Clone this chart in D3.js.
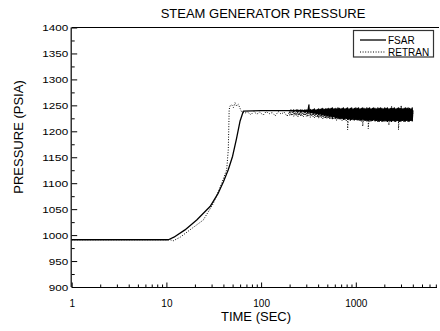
<!DOCTYPE html>
<html>
<head>
<meta charset="utf-8">
<script src="https://cdn.jsdelivr.net/npm/d3@7"></script>
<style>
  html, body { margin: 0; padding: 0; background: #fff; }
  svg { display: block; font-family: "Liberation Sans", Arial, sans-serif; }
</style>
</head>
<body>
<svg id="chart" width="440" height="331"></svg>
<script>
// ---------------- DATA ----------------
const title = "STEAM GENERATOR PRESSURE";
const xLabel = "TIME (SEC)";
const yLabel = "PRESSURE (PSIA)";
const seriesNames = ["FSAR", "RETRAN"];

const xMajorTicks = [1, 10, 100, 1000];
const xMinorTicks = [2,3,4,5,6,7,8,9, 20,30,40,50,60,70,80,90, 200,300,400,500,600,700,800,900, 2000,3000,4000,5000,6000,7000];
const yMajorTicks = [900, 950, 1000, 1050, 1100, 1150, 1200, 1250, 1300, 1350, 1400];
const yMinorTicks = [925, 975, 1025, 1075, 1125, 1175, 1225, 1275, 1325, 1375];

// FSAR transient (before the oscillating long-term part)
const fsarEarlyTime = [1, 10, 10.5, 12, 15.7, 20.9, 28.9, 35.3, 40, 45, 50, 55, 60, 65, 100, 150];
const fsarEarlyP    = [991, 991, 991, 996, 1010, 1029, 1055, 1081, 1103, 1126, 1152, 1186, 1220, 1239, 1240, 1240];

// RETRAN transient
const retranEarlyTime = [1, 11, 11.8, 14, 17.7, 24.5, 31.3, 38.4, 43.3, 45, 45.5, 46, 47, 49, 51, 53, 55, 57.5, 60, 62, 67, 72, 78, 84, 90, 97, 105, 113, 122, 131, 141, 152, 163, 175, 188];
const retranEarlyP    = [991, 991, 989, 996, 1010, 1029, 1061, 1100, 1126, 1164, 1200, 1242, 1249, 1251, 1246, 1255, 1249, 1252, 1244, 1238, 1235, 1237, 1232, 1238, 1233, 1237, 1231, 1238, 1234, 1236, 1230, 1238, 1233, 1237, 1229];

// long-term oscillating part: sample times (s) with the high / low swing at each
const bandTime = [200, 207, 214, 221, 229, 237, 245, 253, 262, 271, 280, 290, 300, 310, 320, 331, 343, 354, 366, 379, 392, 405, 419, 433, 448, 463, 479, 495, 512, 530, 548, 566, 586, 606, 626, 648, 670, 693, 716, 741, 766, 792, 819, 847, 876, 905, 936, 968, 1001, 1035, 1070, 1107, 1144, 1183, 1224, 1265, 1308, 1353, 1399, 1446, 1496, 1546, 1599, 1653, 1710, 1768, 1828, 1890, 1954, 2021, 2089, 2160, 2234, 2310, 2388, 2469, 2553, 2640, 2730, 2822, 2918, 3017, 3120, 3226, 3336, 3449, 3566, 3688, 3813, 3943, 4000];

const fsarBandHigh = [1240,1241,1240,1241,1240,1241,1241,1240,1241,1241,1240,1241,1241,
  1241,1251,1242,1241,1242,1243,1241,1242,1243,1242,1243,1244,1242,1243,
  1243,1244,1243,1244,1245,1243,1244,1243,1245,1244,1243,1244,1245,1243,1244,1245,1243,1244,1245,1243,1244,1245,
  1244,1245,1243,1244,1245,1244,1243,1245,1244,1245,1243,1244,1245,1244,1243,1245,1244,1245,1244,1243,1245,1244,1245,1243,1244,1245,1244,1245,1243,1244,1245,1244,1245,1243,1244,1245,1244,1245,1244,1243,1245,1240];
const fsarBandLow = [1239,1240,1239,1238,1240,1239,1238,1239,1237,1239,1238,1236,1238,
  1236,1237,1235,1236,1234,1235,1233,1234,1232,1233,1231,1232,1230,1231,
  1229,1230,1228,1229,1227,1228,1226,1227,1225,1226,1224,1225,1223,1224,1225,1223,1224,1222,1223,1224,1222,1223,
  1222,1223,1221,1222,1223,1221,1222,1220,1221,1222,1220,1221,1222,1220,1221,1219,1220,1221,1219,1220,1221,1220,1219,1221,1220,1219,1221,1220,1219,1221,1220,1219,1220,1221,1219,1220,1221,1219,1220,1221,1220,1236];

const retranBandHigh = [1238,1239,1237,1240,1238,1239,1240,1238,1239,1241,1239,1240,1238,
  1240,1247,1239,1241,1240,1242,1239,1241,1242,1240,1241,1242,1240,1241,
  1242,1240,1241,1243,1241,1242,1240,1243,1241,1242,1243,1241,1242,1240,1243,1242,1241,1243,1242,1240,1243,1242,
  1241,1243,1242,1240,1243,1241,1242,1243,1241,1242,1243,1240,1242,1243,1241,1242,1243,1241,1242,1240,1243,1242,1241,1243,1242,1248,1241,1243,1242,1240,1243,1242,1250,1241,1243,1242,1241,1243,1242,1241,1243,1236];
const retranBandLow = [1231,1230,1232,1229,1231,1230,1228,1231,1229,1230,1228,1230,1229,
  1228,1230,1227,1229,1228,1226,1228,1227,1225,1227,1226,1224,1226,1225,
  1224,1225,1223,1224,1222,1224,1223,1221,1223,1222,1224,1221,1223,1222,1220,1203,1222,1221,1223,1220,1222,1221,
  1221,1220,1222,1219,1210,1221,1220,1222,1205,1219,1221,1220,1222,1219,1221,1220,1218,1221,1220,1222,1219,1220,1221,1212,1219,1221,1220,1218,1221,1220,1203,1219,1221,1220,1222,1219,1221,1220,1218,1221,1220,1236];

// ---------------- LAYOUT ----------------
const svg = d3.select("#chart");
const pL = 71.7, pR = 437, pT = 27.5, pB = 287;

const x = d3.scaleLog().domain([1, 7200]).range([pL, pR]);
const y = d3.scaleLinear().domain([900, 1400]).range([pB, pT]);

// top frame line
svg.append("line")
  .attr("x1", pL).attr("x2", 439).attr("y1", pT).attr("y2", pT)
  .attr("stroke", "#000").attr("stroke-width", 1.2);

// x axis: major ticks with labels (inward), minor ticks inward
const gx = svg.append("g").attr("transform", `translate(0,${pB})`);
gx.call(d3.axisBottom(x).tickValues(xMajorTicks).tickSize(-4.5).tickPadding(13)
  .tickFormat(d3.format("d")));
const gxm = svg.append("g").attr("transform", `translate(0,${pB})`);
gxm.call(d3.axisBottom(x).tickValues(xMinorTicks).tickSize(-2.5).tickFormat(""));
gxm.select(".domain").remove();
gx.select(".domain").attr("d", `M${pL},0.5H${pR}`).attr("stroke-width", 1.2);
[gx, gxm].forEach(g => g.selectAll(".tick line").attr("stroke", "#000"));
gx.selectAll(".tick text").attr("font-size", 10).attr("fill", "#000")
  .attr("font-family", "Liberation Sans, Arial, sans-serif");

// y axis
const gy = svg.append("g").attr("transform", `translate(${pL},0)`);
gy.call(d3.axisLeft(y).tickValues(yMajorTicks).tickSize(-5.5).tickPadding(9)
  .tickFormat(d3.format("d")));
const gym = svg.append("g").attr("transform", `translate(${pL},0)`);
gym.call(d3.axisLeft(y).tickValues(yMinorTicks).tickSize(-3).tickFormat(""));
gym.select(".domain").remove();
gy.select(".domain").attr("d", `M-0.5,${pT}V${pB}`).attr("stroke-width", 1.2);
[gy, gym].forEach(g => g.selectAll(".tick line").attr("stroke", "#000"));
gy.selectAll(".tick text")
  .attr("font-size", 9.5).attr("fill", "#000")
  .attr("font-family", "Liberation Sans, Arial, sans-serif")
  .attr("x", -3.5)
  .attr("textLength", d => String(d).length * 6.5)
  .attr("lengthAdjust", "spacingAndGlyphs");

// ---------------- SERIES ----------------
function bandPoints(hi, lo) {
  const pts = [];
  bandTime.forEach((t, i) => { pts.push([t, hi[i]]); pts.push([t, lo[i]]); });
  return pts;
}
const fsar = fsarEarlyTime.map((t, i) => [t, fsarEarlyP[i]])
  .concat(bandPoints(fsarBandHigh, fsarBandLow));
const retran = retranEarlyTime.map((t, i) => [t, retranEarlyP[i]])
  .concat(bandPoints(retranBandHigh, retranBandLow));

const line = d3.line().x(d => x(d[0])).y(d => y(d[1]));

svg.append("path").datum(fsar)
  .attr("d", line).attr("fill", "none").attr("stroke", "#000")
  .attr("stroke-width", 1.3).attr("stroke-linejoin", "round");

svg.append("path").datum(retran)
  .attr("d", line).attr("fill", "none").attr("stroke", "#000")
  .attr("stroke-width", 1).attr("stroke-dasharray", "1,1.6");

// ---------------- TEXT ----------------
svg.append("text").attr("x", 263).attr("y", 17.5).attr("text-anchor", "middle")
  .attr("font-size", 13).attr("fill", "#000").text(title);
svg.append("text").attr("x", 256).attr("y", 321).attr("text-anchor", "middle")
  .attr("font-size", 13).attr("fill", "#000").text(xLabel);
svg.append("text").attr("transform", "translate(23,137) rotate(-90)")
  .attr("text-anchor", "middle").attr("font-size", 13).attr("fill", "#000").text(yLabel);

// ---------------- LEGEND ----------------
const lg = svg.append("g");
lg.append("rect").attr("x", 353.5).attr("y", 30.5).attr("width", 80).attr("height", 26.5)
  .attr("fill", "#fff").attr("stroke", "#333").attr("stroke-width", 1.2);
const legendItems = [
  { name: seriesNames[0], dash: null, w: 1.3, yy: 40 },
  { name: seriesNames[1], dash: "1,1.6", w: 1, yy: 52 }
];
legendItems.forEach(it => {
  lg.append("line").attr("x1", 360).attr("x2", 386).attr("y1", it.yy).attr("y2", it.yy)
    .attr("stroke", "#000").attr("stroke-width", it.w)
    .attr("stroke-dasharray", it.dash);
  lg.append("text").attr("x", 388).attr("y", it.yy + 3.6)
    .attr("font-size", 10).attr("fill", "#000").text(it.name);
});
</script>
</body>
</html>
